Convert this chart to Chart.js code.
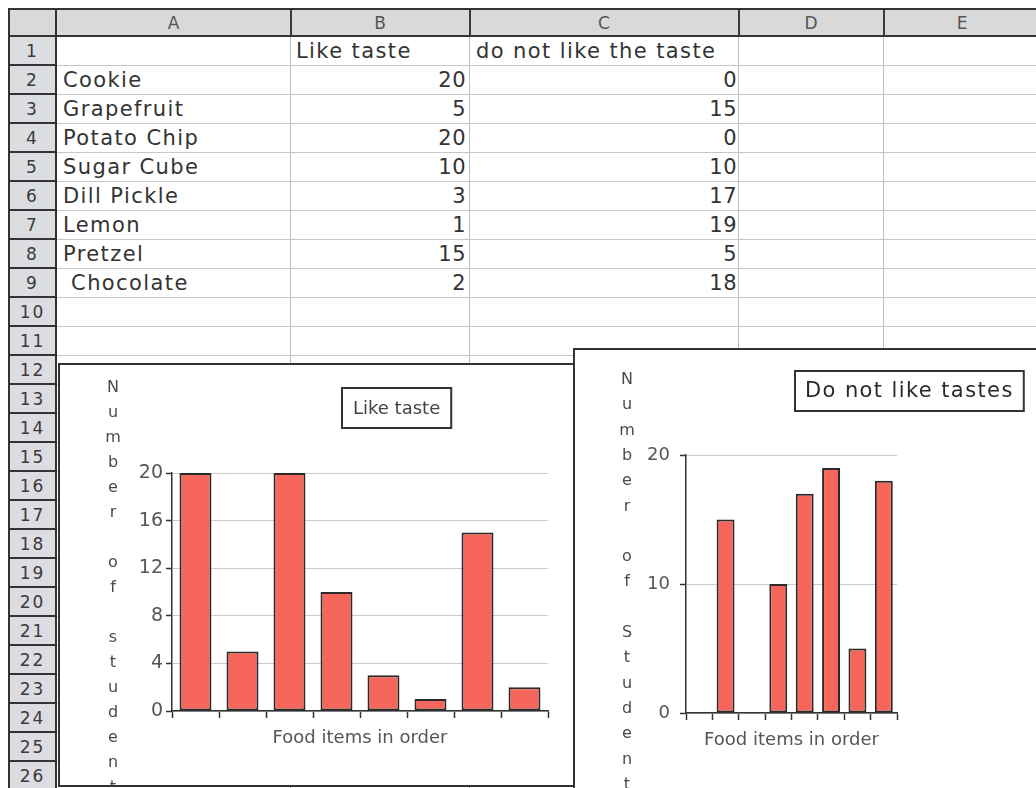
<!DOCTYPE html>
<html>
<head>
<meta charset="utf-8">
<script src="https://cdn.jsdelivr.net/npm/chart.js@4.4.1/dist/chart.umd.min.js"></script>
<style>
  html, body { margin: 0; padding: 0; background: #fff; width: 1036px; height: 788px; overflow: hidden; }
  #sheet { position: absolute; left: 0; top: 0; width: 1036px; height: 788px; font-family: "DejaVu Sans", sans-serif; }
  .d { position: absolute; box-sizing: border-box; white-space: pre; overflow: hidden; }
  .txt { color: #333; font-size: 21px; letter-spacing: 1.4px; height: 29px; line-height: 29px; }
  .hdr { color: #555; font-size: 17px; text-align: center; height: 25px; line-height: 26px; }
  .rown { color: #3a3a3a; font-size: 17px; text-align: center; height: 29px; line-height: 29px; letter-spacing: 2px; }
  .chartbox { position: absolute; border: 2px solid #333; background: #fff; }
  .chartbox canvas { display: block; }
</style>
</head>
<body>
<div id="sheet"></div>
<div class="chartbox" id="box1" style="left:58px; top:363px; width:560px; height:420px; z-index:2;">
  <canvas id="likeChart" width="560" height="420"></canvas>
</div>
<div class="chartbox" id="box2" style="left:573px; top:348px; width:470px; height:450px; z-index:3;">
  <canvas id="dislikeChart" width="470" height="440"></canvas>
</div>
<script>
// Survey results: how many students liked / disliked each food
const columnLetters = ['A', 'B', 'C', 'D', 'E'];
const foods = ['Cookie', 'Grapefruit', 'Potato Chip', 'Sugar Cube', 'Dill Pickle', 'Lemon', 'Pretzel', ' Chocolate'];
const likeTaste = [20, 5, 20, 10, 3, 1, 15, 2];
const dislikeTaste = [0, 15, 0, 10, 17, 19, 5, 18];
const seriesHeaders = ['Like taste', 'do not like the taste'];
const likeTicks = [0, 4, 8, 12, 16, 20];
const dislikeTicks = [0, 10, 20];
const rowCount = 26;

// ---------- worksheet grid ----------
const sheet = document.getElementById('sheet');
function div(cls, css, text) {
  const e = document.createElement('div');
  e.className = 'd ' + (cls || '');
  e.style.cssText = css;
  if (text !== undefined) e.textContent = text;
  sheet.appendChild(e);
  return e;
}
const colBounds = [[57, 290], [291, 469], [470, 738], [739, 883], [884, 1040]];
const headTop = 10, headBottom = 35, bodyTop = 37, rowH = 29;

// header strip and row-number strip
div('', `left:10px;top:${headTop}px;width:1030px;height:${headBottom - headTop}px;background:#d9d9d9;`);
div('', `left:10px;top:${bodyTop}px;width:45px;height:760px;background:#dcdde1;`);
// outer frame
div('', `left:8px;top:8px;width:2px;height:790px;background:#333;`);
div('', `left:8px;top:8px;width:1030px;height:2px;background:#333;`);
div('', `left:8px;top:${headBottom}px;width:1030px;height:2px;background:#333;`);
div('', `left:55px;top:8px;width:2px;height:790px;background:#333;`);

// column separators
colBounds.slice(0, 4).forEach(([l, r]) => {
  div('', `left:${r}px;top:${headTop}px;width:2px;height:${headBottom - headTop}px;background:#3a3a3a;`);
  div('', `left:${r}px;top:${bodyTop}px;width:1px;height:760px;background:#bdbdbd;`);
});
// row separators
for (let n = 1; n <= rowCount; n++) {
  const y = bodyTop + rowH * n - 1;
  div('', `left:57px;top:${y}px;width:983px;height:1px;background:#c6c6c6;`);
  div('', `left:10px;top:${y - 1}px;width:45px;height:2px;background:#333;`);
  div('rown', `left:10px;top:${bodyTop + rowH * (n - 1)}px;width:45px;`, String(n));
}
// column letters
columnLetters.forEach((c, i) => {
  const [l, r] = colBounds[i];
  div('hdr', `left:${l}px;top:${headTop}px;width:${r - l}px;`, c);
});
// cell contents
function rowTop(n) { return bodyTop + rowH * (n - 1); }
div('txt', `left:${colBounds[1][0]}px;top:${rowTop(1)}px;width:${colBounds[1][1] - colBounds[1][0]}px;padding-left:5px;`, seriesHeaders[0]);
div('txt', `left:${colBounds[2][0]}px;top:${rowTop(1)}px;width:${colBounds[2][1] - colBounds[2][0]}px;padding-left:6px;`, seriesHeaders[1]);
foods.forEach((f, i) => {
  const t = rowTop(i + 2);
  div('txt', `left:${colBounds[0][0]}px;top:${t}px;width:${colBounds[0][1] - colBounds[0][0]}px;padding-left:6px;`, f);
  div('txt', `left:${colBounds[1][0]}px;top:${t}px;width:${colBounds[1][1] - colBounds[1][0]}px;padding-right:3px;text-align:right;letter-spacing:0.5px;`, String(likeTaste[i]));
  div('txt', `left:${colBounds[2][0]}px;top:${t}px;width:${colBounds[2][1] - colBounds[2][0]}px;padding-right:1px;text-align:right;letter-spacing:0.5px;`, String(dislikeTaste[i]));
});

// ---------- charts ----------
const FONT = '"DejaVu Sans", sans-serif';

// vertical axis caption written one letter per line
const stackedLabel = {
  id: 'stackedLabel',
  afterDraw(chart, args, o) {
    const ctx = chart.ctx;
    ctx.save();
    ctx.font = `${o.size}px ${FONT}`;
    ctx.fillStyle = o.color;
    ctx.textAlign = 'center';
    ctx.textBaseline = 'alphabetic';
    [...o.text].forEach((ch, i) => {
      if (ch !== ' ') ctx.fillText(ch, o.x, o.y + i * o.step);
    });
    ctx.restore();
  }
};

// chart title inside a framed box
const boxedTitle = {
  id: 'boxedTitle',
  afterDraw(chart, args, o) {
    const ctx = chart.ctx;
    ctx.save();
    ctx.font = `${o.size}px ${FONT}`;
    if ('letterSpacing' in ctx) ctx.letterSpacing = o.spacing + 'px';
    const w = ctx.measureText(o.text).width;
    const bw = w + o.padX * 2;
    ctx.fillStyle = '#fff';
    ctx.fillRect(o.x, o.y, bw, o.h);
    ctx.strokeStyle = '#333';
    ctx.lineWidth = 2;
    ctx.strokeRect(o.x, o.y, bw, o.h);
    ctx.fillStyle = o.color;
    ctx.textAlign = 'left';
    ctx.textBaseline = 'middle';
    ctx.fillText(o.text, o.x + o.padX, o.y + o.h / 2 + 1);
    ctx.restore();
  }
};

function barChart(id, values, tickValues, cfg) {
  return new Chart(document.getElementById(id), {
    type: 'bar',
    data: {
      labels: foods.map(f => f.trim()),
      datasets: [{
        data: values,
        backgroundColor: '#f7665b',
        borderColor: '#2a2a2a',
        borderWidth: 2,
        borderSkipped: false,
        barPercentage: cfg.barPct,
        categoryPercentage: 1
      }]
    },
    plugins: [stackedLabel, boxedTitle],
    options: {
      responsive: false,
      maintainAspectRatio: false,
      animation: false,
      events: [],
      layout: { padding: { left: 0, top: cfg.top, right: cfg.right, bottom: 0 } },
      plugins: {
        legend: { display: false },
        tooltip: { enabled: false },
        title: { display: false },
        stackedLabel: cfg.yCaption,
        boxedTitle: cfg.title
      },
      scales: {
        x: {
          type: 'category',
          offset: true,
          grid: { offset: true, drawOnChartArea: false, drawTicks: true, tickLength: 7, tickColor: '#333', tickWidth: 1.5 },
          border: { color: '#333', width: 1.5 },
          ticks: { display: false },
          title: {
            display: true, text: 'Food items in order', color: '#555',
            font: { family: FONT, size: 18 }, padding: { top: 0, bottom: cfg.xTitlePad }
          },
          afterFit(s) { s.height = cfg.xHeight; }
        },
        y: {
          min: 0,
          max: tickValues[tickValues.length - 1],
          afterBuildTicks(s) { s.ticks = tickValues.map(v => ({ value: v })); },
          ticks: { color: '#555', font: { family: FONT, size: cfg.tickSize }, padding: cfg.tickPad },
          grid: { color: '#cbcbcb', lineWidth: 1, tickColor: '#333', tickLength: 6, tickWidth: 1.5 },
          border: { color: '#333', width: 1.5 },
          afterFit(s) { s.width = cfg.yWidth; }
        }
      }
    }
  });
}

barChart('likeChart', likeTaste, likeTicks, {
  top: 108, right: 72, yWidth: 112, xHeight: 74, xTitlePad: 36,
  tickSize: 19, tickPad: 3, barPct: 0.68,
  yCaption: { text: 'Number of student', x: 53, y: 27, step: 25, size: 16, color: '#4a4a4a' },
  title: { text: 'Like taste', x: 282, y: 23, h: 40, padX: 11, size: 18, spacing: 0, color: '#444' }
});

barChart('dislikeChart', dislikeTaste, dislikeTicks, {
  top: 105, right: 148, yWidth: 111, xHeight: 77, xTitlePad: 39,
  tickSize: 18, tickPad: 10, barPct: 0.68,
  yCaption: { text: 'Number of Student', x: 52, y: 34, step: 25.3, size: 16, color: '#4a4a4a' },
  title: { text: 'Do not like tastes', x: 220, y: 21, h: 40, padX: 10, size: 21, spacing: 1.4, color: '#2a2a2a' }
});
</script>
</body>
</html>
